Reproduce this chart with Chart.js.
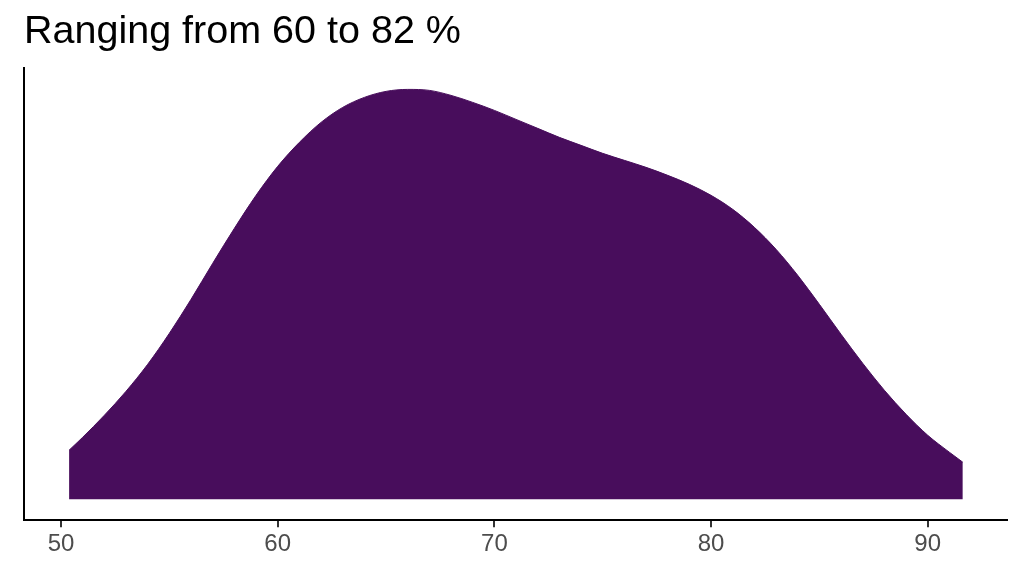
<!DOCTYPE html>
<html>
<head>
<meta charset="utf-8">
<script src="https://cdn.jsdelivr.net/npm/chart.js@4"></script>
<style>
  html, body { margin: 0; padding: 0; background: #fff; }
  #wrap { width: 1024px; height: 576px; }
</style>
</head>
<body>
<div id="wrap"><canvas id="chart"></canvas></div>
<script>
// density estimate (x in %, y in relative density units)
const xValues = [50.37, 51, 52, 53, 54, 55, 56, 57, 58, 59, 60,
  61, 62, 63, 64, 65, 66, 67, 68, 69, 70,
  71, 72, 73, 74, 75, 76, 77, 78, 79, 80,
  81, 82, 83, 84, 85, 86, 87, 88, 89, 90, 91, 91.62];
const densityValues = [49, 62, 84, 108, 135, 166, 200, 236, 271, 304, 333,
  357, 377, 392, 402, 408, 410, 409, 404, 397, 389,
  380, 371, 362, 354, 346, 339, 332, 324, 315, 304,
  290, 272, 250, 224, 195, 165, 136, 109, 85, 64, 47, 37];
const tickValues = [50, 60, 70, 80, 90];
const titleText = 'Ranging from 60 to 82 %';

const points = xValues.map((x, i) => ({ x: x, y: densityValues[i] }));

new Chart(document.getElementById('chart'), {
  type: 'line',
  data: {
    datasets: [{
      data: points,
      fill: 'origin',
      backgroundColor: '#480D5C',
      borderColor: '#480D5C',
      borderWidth: 1,
      pointRadius: 0,
      cubicInterpolationMode: 'monotone',
    }],
  },
  options: {
    responsive: true,
    maintainAspectRatio: false,
    animation: false,
    layout: { padding: { left: 16, right: 17, top: 0, bottom: 14 } },
    plugins: {
      legend: { display: false },
      tooltip: { enabled: false },
      title: {
        display: true,
        fullSize: false,
        text: titleText,
        align: 'start',
        color: '#000',
        font: { family: 'Liberation Sans, Arial, sans-serif', size: 39.5, weight: 'normal' },
        padding: { top: 8, bottom: 13 },
      },
    },
    scales: {
      x: {
        type: 'linear',
        min: 48.29,
        max: 93.66,
        afterBuildTicks: scale => { scale.ticks = tickValues.map(v => ({ value: v })); },
        grid: { display: true, drawOnChartArea: false, tickLength: 7, color: '#333', lineWidth: 2 },
        border: { display: true, color: '#000', width: 2 },
        ticks: {
          color: '#4D4D4D',
          padding: 3,
          font: { family: 'Liberation Sans, Arial, sans-serif', size: 24 },
          maxRotation: 0,
        },
      },
      y: {
        min: -21,
        max: 431,
        grid: { display: false },
        border: { display: true, color: '#000', width: 2 },
        ticks: { display: false },
      },
    },
  },
});
</script>
</body>
</html>
